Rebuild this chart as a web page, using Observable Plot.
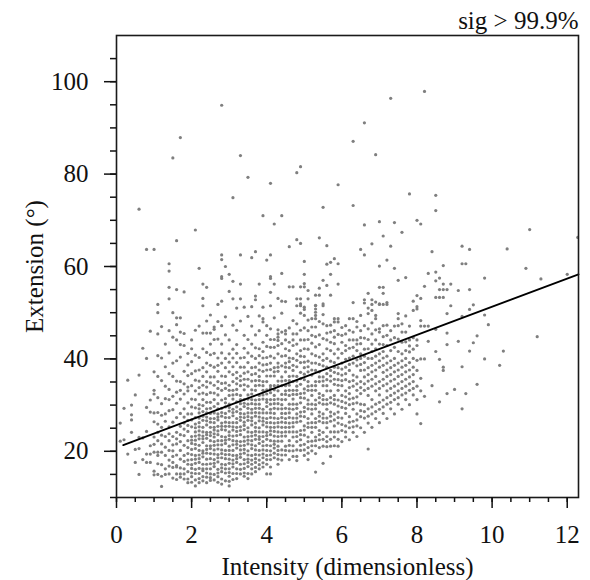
<!DOCTYPE html>
<html><head><meta charset="utf-8">
<script src="https://cdn.jsdelivr.net/npm/d3@7"></script>
<script src="https://cdn.jsdelivr.net/npm/@observablehq/plot@0.6"></script>
<style>body{margin:0;background:#fff}#chart{width:590px;height:580px}</style>
</head><body><div id="chart"></div>
<script>
const title = "sig > 99.9%";
const xLabel = "Intensity (dimensionless)";
const yLabel = "Extension (°)";
const xMajorTicks = [0, 2, 4, 6, 8, 10, 12];
const xMinorTicks = [0, 0.5, 1, 1.5, 2, 2.5, 3, 3.5, 4, 4.5, 5, 5.5, 6, 6.5, 7, 7.5, 8, 8.5, 9, 9.5, 10, 10.5, 11, 11.5, 12];
const yMajorTicks = [20, 40, 60, 80, 100];
const yMinorTicks = [10, 15, 20, 25, 30, 35, 40, 45, 50, 55, 60, 65, 70, 75, 80, 85, 90, 95, 100, 105];
const fitIntercept = 20.8;
const fitSlope = 3.05;
const fitXRange = [0.18, 12.3];
// Intensity column -> Extension values
const pointColumns = [
[0.1,[26.1,22.2]],
[0.2,[22.5,29.3]],
[0.3,[19.4,35.4]],
[0.4,[30.0,27.9,26.8,24.1]],
[0.5,[20.4,17.6,32.2]],
[0.6,[15.0,20.6,23.0,36.5,72.4]],
[0.7,[22.9,18.2,42.3]],
[0.8,[29.5,19.4,17.6,24.3,40.1,63.7]],
[0.9,[28.5,19.4,17.6,21.2,31.1,46.0]],
[1.0,[33.2,32.4,15.7,14.9,19.8,23.1,26.4,63.7]],
[1.1,[25.9,19.8,19.1,15.0,22.3,28.4,36.2,51.8,45.4,50.0]],
[1.2,[25.2,12.4,19.8,17.1,21.6,30.3,47.0,40.2]],
[1.3,[19.1,28.1,23.2,16.2,15.0,26.5,34.1,38.3]],
[1.4,[28.8,23.8,22.3,18.1,15.1,20.2,25.3,31.2,33.4,55.5,53.0,60.6,59.0,41.3]],
[1.5,[29.0,23.2,17.6,16.5,20.1,26.3,21.4,36.2,39.1,83.5,50.0]],
[1.6,[21.6,16.9,16.6,15.1,19.2,24.1,27.3,30.4,35.2,48.9,47.4,55.0,65.6,44.1]],
[1.7,[33.2,15.1,14.4,18.3,20.2,22.1,25.4,28.2,31.3,48.9,45.8,87.9,40.4]],
[1.8,[32.4,27.4,14.0,16.2,19.1,21.3,23.4,26.1,29.2,42.9,54.5,37.3]],
[1.9,[33.9,26.7,14.0,15.6,17.2,19.5,22.3,24.3,28.1,30.5,36.4,41.2]],
[2.0,[28.1,14.5,16.3,18.2,20.4,21.7,23.2,25.3,31.3,34.2,39.4,44.1]],
[2.1,[25.9,12.5,15.2,17.4,19.1,20.6,22.4,24.2,27.3,29.4,33.1,37.4,67.9,46.2]],
[2.2,[14.1,16.3,17.6,19.2,21.3,22.7,24.4,26.2,28.3,30.1,32.4,35.2,40.3,47.1,59.6]],
[2.3,[15.8,14.5,17.2,18.8,20.1,21.9,23.3,25.2,26.7,28.6,31.2,34.3,38.1,42.2,56.2,53.1,51.5,45.6]],
[2.4,[14.4,16.2,18.3,19.6,21.2,22.8,24.1,25.7,27.4,29.2,32.3,35.1,37.2,41.4,55.5,45.6,48.2]],
[2.5,[13.7,15.1,17.3,18.4,20.6,21.2,23.4,24.1,26.3,28.2,30.6,32.7,36.1,38.6,43.2,49.5,45.6]],
[2.6,[15.0,16.7,18.2,19.4,21.3,22.1,23.8,25.2,27.1,29.7,31.2,34.3,38.2,46.9,46.4,44.2]],
[2.7,[14.5,16.1,17.7,19.3,20.5,22.3,23.6,25.4,26.8,28.1,30.3,32.2,35.1,37.3,40.2,51.8,44.3,48.1]],
[2.8,[14.0,15.6,17.2,18.6,20.3,21.4,23.2,24.7,26.1,27.6,29.3,31.1,33.2,36.3,39.1,43.2,62.5,61.5,57.8,57.4,52.5,94.9,47.2]],
[2.9,[15.3,17.1,18.4,20.2,21.7,23.1,24.6,26.3,28.2,29.6,31.4,33.6,36.2,40.1,60.0,45.2,49.1]],
[3.0,[12.5,14.6,16.2,17.4,19.3,21.1,22.6,24.2,25.4,27.3,28.7,30.2,32.1,34.3,37.2,41.1,58.3,54.6,44.1]],
[3.1,[15.2,16.6,18.1,20.2,21.4,23.3,24.6,26.2,27.7,29.1,31.3,33.2,35.1,38.3,42.1,56.8,53.0,74.9,47.3]],
[3.2,[14.1,16.2,17.6,19.1,20.7,22.2,23.4,25.2,27.1,28.6,30.7,32.3,34.6,37.1,39.2,43.1,46.2,51.0]],
[3.3,[15.1,17.2,18.7,20.3,22.1,23.6,25.3,26.7,28.2,30.3,32.1,34.2,36.3,40.2,62.5,56.2,53.0,84.0,48.2]],
[3.4,[14.6,16.3,18.2,19.6,21.3,23.1,24.7,26.3,28.1,29.7,31.2,33.3,35.6,38.2,42.3,45.1,51.2]],
[3.5,[15.2,16.7,18.3,20.1,21.6,23.2,25.1,26.7,28.3,30.2,32.2,34.1,37.2,41.3,79.3,44.2,49.2]],
[3.6,[15.1,17.2,19.1,20.6,22.3,24.1,25.7,27.3,29.1,31.2,33.3,35.2,38.1,43.2,61.9,47.1,51.3]],
[3.7,[15.6,17.6,19.3,21.2,22.6,24.3,26.1,27.6,29.3,31.1,33.2,35.3,38.2,40.1,63.2,53.6,52.8,45.2]],
[3.8,[16.2,18.1,20.2,21.7,23.2,25.1,26.6,28.3,30.2,32.1,34.3,36.2,39.1,42.2,56.2,46.1,49.3]],
[3.9,[16.6,18.6,20.3,22.1,24.2,25.7,27.2,29.1,31.3,33.2,35.1,37.3,40.2,43.6,48.7,48.0,71.0,51.2]],
[4.0,[17.2,19.1,21.3,22.6,24.1,26.2,28.3,29.7,31.2,33.3,35.1,37.6,40.3,45.1,47.2,61.4,15.1]],
[4.1,[15.1,18.2,20.1,22.3,23.6,25.2,27.3,29.1,31.2,32.7,34.2,36.3,39.1,42.5,44.2,46.5,57.8,57.4,54.4,62.5,78.0,51.5]],
[4.2,[18.6,20.7,22.2,24.3,26.1,28.2,30.3,32.1,34.2,36.3,38.1,40.2,42.5,48.9,69.2,56.2]],
[4.3,[17.2,19.3,21.1,23.2,25.3,27.1,29.2,31.3,33.1,35.2,37.3,39.1,42.9,46.3,45.4,44.7,44.0,53.1]],
[4.4,[18.1,20.3,22.2,24.1,26.3,28.2,30.1,32.3,34.2,36.1,38.5,43.3,49.9,71.0,52.5,58.5]],
[4.5,[19.2,21.1,23.3,25.2,27.1,29.3,31.2,33.1,35.3,37.2,39.1,42.2,46.1,45.4,52.4]],
[4.6,[18.2,20.1,22.3,24.2,26.1,28.3,30.2,32.1,34.3,36.2,38.1,43.6,55.6,64.3,40.2]],
[4.7,[18.9,21.2,23.1,25.3,27.2,29.1,31.3,33.2,35.1,37.5,40.1,42.9,45.4,48.3,55.6]],
[4.8,[18.0,18.9,22.1,24.2,26.3,28.1,30.2,32.3,34.1,36.2,38.3,41.1,45.4,53.0,51.5,65.8,80.3]],
[4.9,[20.2,22.5,24.5,26.5,28.5,30.5,32.5,34.5,37.1,39.2,41.8,44.1,49.9,51.9,55.6,53.0,51.5,65.0,81.6]],
[5.0,[19.1,21.5,23.5,25.5,27.5,29.5,31.5,33.5,35.5,38.1,40.5,42.2,44.1,49.4,51.2,55.6,56.3,58.3,61.1,50.7]],
[5.1,[18.2,20.8,23.1,25.2,27.1,29.2,31.1,33.2,35.1,37.2,39.5,42.1,46.1,54.8,53.0]],
[5.2,[20.1,22.2,24.1,26.2,28.1,30.2,32.1,34.2,36.5,39.1,41.1,46.9,48.7]],
[5.3,[15.5,19.5,21.2,23.1,25.2,27.1,29.2,31.1,33.2,35.1,37.5,40.7,46.9,48.7,51.6,50.8,50.1,49.4,53.8,51.5]],
[5.4,[20.8,22.5,24.5,26.5,28.5,30.5,32.5,35.1,37.2,40.4,43.1,55.3,53.8,66.2]],
[5.5,[17.4,21.1,24.1,26.2,28.1,30.2,32.1,34.2,36.1,38.5,41.1,47.6,51.9,57.0,51.5,72.8]],
[5.6,[21.0,23.2,25.1,27.2,29.1,31.2,33.1,35.5,38.2,40.1,44.1,47.2,55.9,60.5,64.5]],
[5.7,[18.9,21.1,24.2,26.5,28.5,30.5,33.1,35.2,37.5,41.8,43.6,45.8,60.9,58.3,53.8]],
[5.8,[21.2,23.1,25.5,28.1,30.2,32.1,34.5,37.1,39.2,41.1,43.3,46.1,48.7,48.0,61.7]],
[5.9,[21.1,24.2,26.1,28.5,31.1,33.2,35.5,38.1,40.2,48.7,48.0,60.6,56.2,77.7]],
[6.0,[22.1,24.5,27.2,29.5,32.1,34.2,36.5,39.1,41.2,43.6,45.1]],
[6.1,[23.1,25.5,28.2,30.5,33.1,35.5,38.2,41.8,42.9,45.4]],
[6.2,[22.5,25.1,27.5,30.1,32.5,35.1,37.5,40.2,44.1,48.7,46.2]],
[6.3,[24.1,26.5,29.1,31.5,34.1,36.5,39.1,42.5,45.8,48.7,52.2,87.1,73.2]],
[6.4,[23.2,25.5,28.1,30.5,33.2,36.1,38.5,41.8,46.9,44.1]],
[6.5,[25.1,27.5,30.2,32.5,35.1,37.5,40.1,43.3,41.1,46.1,49.4,63.7]],
[6.6,[24.1,27.2,30.1,33.2,36.1,39.2,42.1,44.5,52.8,52.1,62.5,69.0,91.1]],
[6.7,[20.5,26.1,29.2,32.1,35.2,38.1,42.2,46.5,49.8,51.0,54.2]],
[6.8,[25.2,28.1,31.2,34.1,37.2,40.1,43.2,45.4,50.5,52.8,51.8,64.9]],
[6.9,[27.1,30.2,33.1,36.2,39.1,42.2,44.1,49.4,48.7,52.3,84.2]],
[7.0,[26.2,29.1,32.2,35.1,38.2,41.1,46.5,45.8,51.9,51.8,55.5,60.1,69.7]],
[7.1,[28.2,31.1,34.2,37.1,40.2,43.1,47.2,55.5,54.2,51.8,66.6]],
[7.2,[27.1,30.2,33.1,36.2,39.1,42.9,45.1,51.8,52.2,61.4]],
[7.3,[29.2,32.1,35.2,38.1,41.8,44.1,64.4,96.4]],
[7.4,[28.1,31.2,34.1,37.2,40.1,42.5,47.1,59.6,69.5]],
[7.5,[30.2,33.1,36.2,39.1,44.3,47.2,49.8,48.7,57.0]],
[7.6,[29.1,32.2,35.1,38.2,41.1,43.6,45.8,67.4]],
[7.7,[31.2,34.1,37.2,40.1,41.8,45.8,49.3,57.6]],
[7.8,[30.1,33.2,36.1,39.2,41.5,44.1,47.1,75.7]],
[7.9,[32.2,35.1,38.2,42.1,50.5,52.5]],
[8.0,[28.1,31.2,34.1,37.5,44.1,42.9,39.7,51.3,53.7,50.8,70.0]],
[8.1,[69.2,53.1,48.3,47.1,40.0,35.8,33.1,26.0]],
[8.2,[55.7,47.1,40.0,31.9,97.9]],
[8.3,[58.5,47.1,43.8]],
[8.4,[63.2,34.2]],
[8.5,[72.1,75.4,58.8,56.9,53.3,46.4,41.6]],
[8.6,[57.5,55.0,53.3,39.9,30.7]],
[8.7,[60.2,56.2,55.0,53.3,38.2,37.5]],
[8.8,[55.0,49.8,45.6,43.1,32.5]],
[8.9,[56.2,51.5]],
[9.0,[33.4]],
[9.1,[54.8,43.8]],
[9.2,[64.4,60.6,49.2,38.3,29.2]],
[9.3,[60.6,32.5]],
[9.4,[63.7,55.0,50.7,41.7]],
[9.5,[51.7,43.5]],
[9.6,[45.0,34.5]],
[9.8,[57.5,49.5,40.0]],
[9.9,[47.4]],
[10.2,[38.6]],
[10.3,[41.7]],
[10.4,[63.8]],
[10.9,[59.6]],
[11.0,[68.0]],
[11.2,[44.8]],
[11.3,[57.3]],
[12.0,[58.3]],
[12.28,[66.3]]
];
// further readings inside the dense core of the cloud
const coreColumns = [
[1.0,[21.5,28.3,37.2]],
[1.1,[17.3,24.1,31.6,40.7]],
[1.2,[14.6,23.5,27.8,35.3]],
[1.3,[20.9,31.4,43.2]],
[1.4,[16.8,36.8,46.1]],
[1.5,[14.2,18.9,31.9,44.7]],
[1.6,[13.9,22.7,32.8,39.6]],
[1.7,[16.4,23.6,35.1,43.1]],
[1.8,[15.1,17.8,24.8,34.6,45.5]],
[1.9,[13.2,18.1,20.8,25.6,33.1,38.7]],
[2.0,[13.3,15.3,17.1,19.3,22.4,26.8,29.6,36.8,42.2]],
[2.1,[13.8,16.1,18.3,21.5,23.3,25.1,31.2,35.4,40.8]],
[2.2,[13.2,15.2,18.4,20.2,23.5,25.3,27.2,29.2,33.8,37.6]],
[2.3,[13.6,16.2,19.6,22.7,24.2,27.6,29.9,32.6,36.2]],
[2.4,[13.2,15.3,17.2,20.4,23.6,26.6,28.3,30.6,33.9,39.1]],
[2.5,[14.3,16.2,19.5,22.3,25.2,27.1,29.3,34.8,40.9]],
[2.6,[13.8,17.4,20.3,23.1,24.6,26.2,28.3,32.6,36.1,41.2]],
[2.7,[13.3,15.3,18.6,21.4,24.4,27.4,29.2,33.6,38.6]],
[2.8,[12.9,16.4,19.5,22.3,25.4,28.4,34.7,41.3]],
[2.9,[13.6,16.2,19.3,22.4,25.4,27.3,30.5,34.8,38.1]],
[3.0,[13.5,15.4,18.3,20.2,23.4,26.2,29.5,33.2,39.3]],
[3.1,[13.9,17.3,19.1,22.3,25.3,28.4,32.2,36.6,40.2]],
[3.2,[15.2,18.4,21.5,24.3,26.2,29.6,33.4,35.8,41.2]],
[3.3,[16.1,19.4,21.2,24.5,27.4,29.1,31.2,35.3,38.2]],
[3.4,[15.3,17.3,20.4,22.2,25.6,27.3,30.4,34.4,36.9,40.3]],
[3.5,[14.1,17.6,19.2,22.4,24.2,27.5,29.3,31.3,35.6,39.2]],
[3.6,[16.2,18.1,21.4,23.3,26.6,28.3,30.3,32.4,36.6,40.6]],
[3.7,[16.5,18.4,20.3,23.5,25.2,28.4,30.2,34.2,36.8,42.4]],
[3.8,[17.1,19.2,22.6,24.2,27.4,29.3,31.2,35.3,37.6,40.7]],
[3.9,[17.5,19.4,21.2,23.2,26.5,28.3,32.2,34.2,38.7,41.6]],
[4.0,[18.2,20.2,23.4,25.3,27.1,30.6,32.4,36.3,38.8,42.7]],
[4.1,[16.6,19.2,21.2,24.4,26.2,28.3,30.2,33.6,37.7,40.6]],
[4.2,[19.6,21.5,23.3,25.2,27.2,29.3,31.2,33.3,37.2,44.2]],
[4.3,[18.3,20.2,22.2,24.2,26.2,30.3,34.2,38.2,41.1]],
[4.4,[19.2,23.3,25.2,27.3,29.2,31.2,35.2,40.6,45.8]],
[4.5,[20.2,24.2,26.2,28.2,32.3,34.2,38.2,40.7,44.1]],
[4.6,[21.3,25.2,27.3,29.2,33.2,35.3,39.4,41.8,46.7]],
[4.7,[20.1,24.2,26.2,30.2,32.3,36.3,38.6,44.1]],
[4.8,[20.3,23.2,27.2,29.3,33.2,35.2,39.7,43.2,47.6]],
[4.9,[21.3,23.6,27.6,31.6,35.7,40.6,46.2]],
[5.0,[20.3,24.6,28.6,32.6,36.7,39.3,46.7]],
[5.1,[19.6,22.1,26.1,30.2,34.1,38.3,44.2,48.4]],
[5.2,[21.2,25.2,29.1,33.2,37.6,43.4,45.1]],
[5.3,[22.3,26.2,30.1,34.2,39.1,42.6,44.8]],
[5.4,[23.6,27.6,31.6,36.1,38.8,45.2,48.1]],
[5.5,[22.6,27.2,31.2,35.2,39.7,44.4,49.6]],
[5.6,[22.1,26.2,30.2,34.2,36.8,42.2,45.6]],
[5.7,[22.6,27.6,31.6,36.3,39.5,47.3]],
[5.8,[24.2,26.8,31.2,35.6,38.2,44.7]],
[5.9,[22.6,27.3,29.8,34.3,36.8,42.1,45.3]],
[6.0,[25.8,30.8,35.3,37.8,46.8]],
[6.1,[24.2,29.3,31.8,36.8,39.9,47.2]],
[6.2,[26.3,31.3,33.8,38.8,42.3]],
[6.3,[25.3,30.3,35.3,40.6,44.1]],
[6.4,[26.8,31.8,34.6,39.8,43.2,48.1]],
[6.5,[28.8,33.8,38.8,44.6]],
[6.6,[28.6,34.6,37.6,40.6,47.2]],
[6.7,[27.6,33.6,36.6,40.1,44.2]],
[6.8,[29.6,35.6,38.6,41.6,47.8]],
[6.9,[28.6,34.6,37.6,40.6,46.3]],
[7.0,[30.6,33.6,39.6,43.2]],
[7.1,[29.6,35.6,38.6,41.6,44.8]],
[7.2,[31.6,34.6,37.6,40.6,47.3]],
[7.3,[30.6,33.6,36.6,39.6,46.1]],
[7.4,[32.6,35.6,38.6,44.6]],
[7.5,[31.6,34.6,37.6,41.6]],
[7.6,[33.6,36.6,39.6,47.6]],
[7.7,[32.6,35.6,38.6,43.7]],
[7.8,[34.6,37.6,42.8]],
[7.9,[33.6,36.6,40.1,44.6]]
];

const toPoints = cols => cols.flatMap(([x, ys]) => ys.map(y => ({intensity: x, extension: y})));
const points = toPoints(pointColumns).concat(toPoints(coreColumns));
const fitLine = fitXRange.map(x => ({intensity: x, extension: fitIntercept + fitSlope * x}));

const font = "'Liberation Serif', 'Times New Roman', 'DejaVu Serif', serif";
const chart = Plot.plot({
  width: 590,
  height: 580,
  marginLeft: 116,
  marginRight: 12,
  marginTop: 35,
  marginBottom: 83,
  style: {fontFamily: font, fontSize: "25px", color: "#111", background: "#fff", overflow: "visible"},
  x: {domain: [0, 12.3], label: null},
  y: {domain: [10, 110], label: null},
  marks: [
    Plot.dot(points, {x: "intensity", y: "extension", r: 1.6, fill: "#7f7f7f", stroke: null, clip: true}),
    Plot.line(fitLine, {x: "intensity", y: "extension", stroke: "#000", strokeWidth: 1.8}),
    Plot.frame({stroke: "#1a1a1a", strokeWidth: 1.6}),
    Plot.axisX({ticks: xMinorTicks, tickSize: 5, tickFormat: () => "", strokeWidth: 1.5, label: null}),
    Plot.axisX({ticks: xMajorTicks, tickSize: 11, tickFormat: () => "", strokeWidth: 1.5, label: null}),
    Plot.axisY({ticks: yMinorTicks, tickSize: 6, tickFormat: () => "", strokeWidth: 1.5, label: null}),
    Plot.axisY({ticks: yMajorTicks, tickSize: 12, tickFormat: () => "", strokeWidth: 1.5, label: null}),
    Plot.text(xMajorTicks, {x: d => d, text: d => String(d), frameAnchor: "bottom", textAnchor: "middle", lineAnchor: "top", dy: 28, fontSize: 25, fill: "#111"}),
    Plot.text(yMajorTicks, {y: d => d, text: d => String(d), frameAnchor: "left", textAnchor: "end", lineAnchor: "middle", dx: -28, fontSize: 25, fill: "#111"}),
    Plot.text([title], {text: d => d, frameAnchor: "top-right", textAnchor: "end", lineAnchor: "bottom", dy: -7, fontSize: 25}),
    Plot.text([xLabel], {text: d => d, frameAnchor: "bottom", textAnchor: "middle", lineAnchor: "top", dy: 60, fontSize: 25}),
    Plot.text([yLabel], {text: d => d, frameAnchor: "left", textAnchor: "middle", rotate: -90, lineAnchor: "middle", dx: -82, fontSize: 25})
  ]
});
document.getElementById("chart").appendChild(chart);
</script>
</body></html>
